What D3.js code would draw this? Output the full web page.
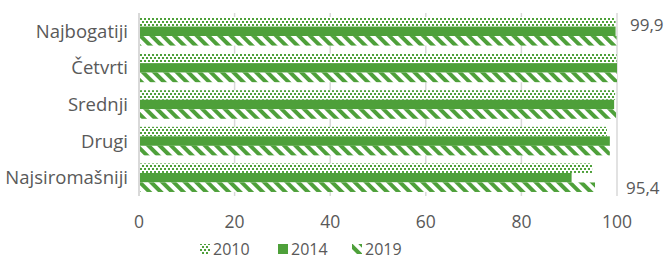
<!DOCTYPE html>
<html>
<head>
<meta charset="utf-8">
<title>Najbogatiji - Najsiromasniji</title>
<style>
  body { margin: 0; background: #fff; }
  text { font-family: "Open Sans", sans-serif; fill: #595959; }
</style>
</head>
<body>
<div id="my_dataviz"></div>
<script src="https://cdn.jsdelivr.net/npm/d3@7"></script>
<script>

// data
var categories = ["Najbogatiji", "Četvrti", "Srednji", "Drugi", "Najsiromašniji"]
var years = ["2010", "2014", "2019"]
var values2010 = [99.7, 99.9, 99.6, 97.9, 94.8]
var values2014 = [99.7, 100, 99.4, 98.5, 90.5]
var values2019 = [99.9, 100, 99.8, 98.5, 95.4]
var xTicks = [0, 20, 40, 60, 80, 100]
// the two data labels shown in the chart
var labelCats = ["Najbogatiji", "Najsiromašniji"]
var labelTexts = ["99,9", "95,4"]

var width = 668,
    height = 260
var margin = {top: 13, right: 50, bottom: 64, left: 139}
var green = "#4ea03a"

var series = [values2010, values2014, values2019]

var svg = d3.select("#my_dataviz")
  .append("svg")
    .attr("width", width)
    .attr("height", height)

// fill patterns for the three years
var defs = svg.append("defs")

var pDot = defs.append("pattern")
    .attr("id", "p2010")
    .attr("patternUnits", "userSpaceOnUse")
    .attr("width", 4).attr("height", 6)
pDot.append("rect").attr("width", 4).attr("height", 6).attr("fill", "#fff")
pDot.append("rect").attr("x", 0).attr("y", 0).attr("width", 2).attr("height", 2).attr("fill", green)
pDot.append("rect").attr("x", 2).attr("y", 3).attr("width", 2).attr("height", 2).attr("fill", green)

var pDiag = defs.append("pattern")
    .attr("id", "p2019")
    .attr("patternUnits", "userSpaceOnUse")
    .attr("width", 8).attr("height", 8)
    .attr("patternTransform", "rotate(-45)")
pDiag.append("rect").attr("width", 8).attr("height", 8).attr("fill", "#fff")
pDiag.append("rect").attr("width", 4).attr("height", 8).attr("fill", green)

var fills = ["url(#p2010)", green, "url(#p2019)"]

var x = d3.scaleLinear()
  .domain([0, 100])
  .range([margin.left, width - margin.right - 1])

var y = d3.scaleBand()
  .domain(categories)
  .range([margin.top, height - margin.bottom])
  .paddingInner(0.22)
  .paddingOuter(0.11)

var ySub = d3.scaleBand()
  .domain(years)
  .range([0, y.bandwidth()])

// gridlines
svg.append("g")
  .selectAll("line")
  .data(xTicks)
  .enter()
  .append("line")
    .attr("x1", function(d) { return x(d) })
    .attr("x2", function(d) { return x(d) })
    .attr("y1", margin.top)
    .attr("y2", height - margin.bottom)
    .attr("stroke", "#d9d9d9")
    .attr("stroke-width", function(d) { return d === 0 ? 2 : 1.5 })

// bars
years.forEach(function(yr, i) {
  svg.append("g")
    .selectAll("rect")
    .data(categories)
    .enter()
    .append("rect")
      .attr("x", x(0) + 1)
      .attr("y", function(c) { return y(c) + ySub(yr) })
      .attr("width", function(c, j) { return x(series[i][j]) - x(0) - 1 })
      .attr("height", ySub.bandwidth())
      .attr("fill", fills[i])
})

// category labels
svg.append("g")
  .selectAll("text")
  .data(categories)
  .enter()
  .append("text")
    .attr("x", margin.left - 11)
    .attr("y", function(c) { return y(c) + y.bandwidth() / 2 })
    .attr("dy", "0.35em")
    .attr("text-anchor", "end")
    .style("font-size", "18.5px")
    .text(function(c) { return c })

// x tick labels
svg.append("g")
  .selectAll("text")
  .data(xTicks)
  .enter()
  .append("text")
    .attr("x", function(d) { return x(d) })
    .attr("y", 222)
    .attr("dy", "0.35em")
    .attr("text-anchor", "middle")
    .style("font-size", "17.5px")
    .text(function(d) { return d })

// data labels
svg.append("text")
  .attr("x", x(100) + 13)
  .attr("y", y(labelCats[0]) + ySub("2014") - 1)
  .attr("dy", "0.35em")
  .style("font-size", "17px")
  .text(labelTexts[0])

svg.append("text")
  .attr("x", x(100) + 9)
  .attr("y", y(labelCats[1]) + ySub("2019") + ySub.bandwidth() / 2 + 1)
  .attr("dy", "0.35em")
  .style("font-size", "17px")
  .text(labelTexts[1])

// legend
var legX = [200, 278, 352]
var legend = svg.append("g")
  .selectAll("g")
  .data(years)
  .enter()
  .append("g")
    .attr("transform", function(d, i) { return "translate(" + legX[i] + ",249)" })

legend.append("rect")
  .attr("x", 0).attr("y", -5)
  .attr("width", 10).attr("height", 10)
  .attr("fill", function(d, i) { return fills[i] })

legend.append("text")
  .attr("x", 13)
  .attr("dy", "0.35em")
  .style("font-size", "16px")
  .text(function(d) { return d })

</script>
</body>
</html>
